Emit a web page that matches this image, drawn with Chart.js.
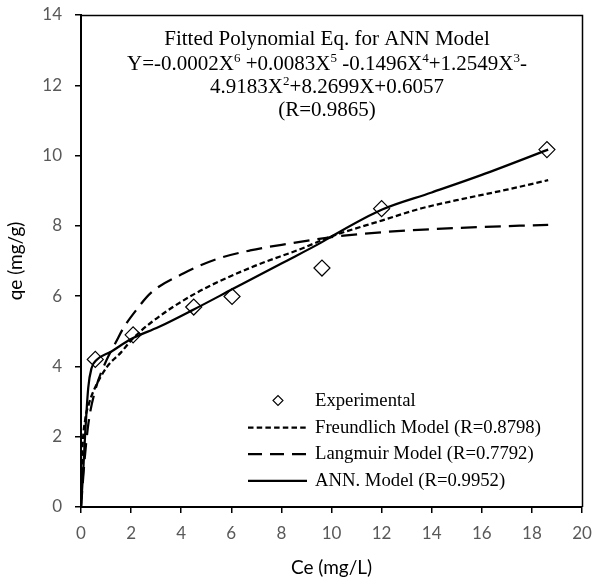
<!DOCTYPE html>
<html><head><meta charset="utf-8">
<script src="https://cdn.jsdelivr.net/npm/chart.js@4.4.0/dist/chart.umd.min.js"></script>
<style>html,body{margin:0;padding:0;background:#fff;}#wrap{width:593px;height:583px;position:relative;}</style>
</head><body>
<div id="wrap"><canvas id="c" width="593" height="583"></canvas></div>
<script>
// ---- data ----
const expX = [0.57, 2.08, 4.5, 6.03, 9.62, 12.0, 18.6];
const expY = [4.2, 4.9, 5.69, 5.99, 6.8, 8.49, 10.17];

const freX = [0, 0.05, 0.17, 0.3, 0.5, 1.05, 1.6, 2.05, 2.8, 4.5, 6.8, 8.8, 10.0, 12.0, 13.6, 15.0, 17.0, 18.65];
const freY = [0, 1.5, 2.5, 2.9, 3.3, 4.0, 4.4, 4.78, 5.25, 6.05, 6.82, 7.35, 7.7, 8.15, 8.5, 8.73, 9.03, 9.3];

const lanX = [0, 0.15, 0.3, 0.56, 1.0, 1.4, 1.7, 2.2, 2.8, 4.1, 5.4, 6.75, 8.35, 10.0, 12.2, 15.0, 18.65];
const lanY = [0, 1.4, 2.4, 3.3, 4.15, 4.7, 5.1, 5.6, 6.1, 6.65, 7.05, 7.3, 7.5, 7.68, 7.83, 7.94, 8.03];

const annX = [0, 0.09, 0.16, 0.29, 0.42, 0.62, 1.2, 2.0, 3.1, 4.5, 6.05, 8.0, 9.6, 10.0, 12.0, 14.0, 16.0, 18.65];
const annY = [0, 1.05, 2.0, 3.4, 3.95, 4.18, 4.42, 4.78, 5.12, 5.62, 6.2, 6.93, 7.53, 7.7, 8.46, 8.95, 9.45, 10.17];

const xTickValues = [0, 2, 4, 6, 8, 10, 12, 14, 16, 18, 20];
const xTickLabels = ['0', '2', '4', '6', '8', '10', '12', '14', '16', '18', '20'];
const yTickValues = [0, 2, 4, 6, 8, 10, 12, 14];
const yTickLabels = ['0', '2', '4', '6', '8', '10', '12', '14'];

const xTitle = 'Ce (mg/L)';
const yTitle = 'qe (mg/g)';
const legendLabels = ['Experimental', 'Freundlich Model (R=0.8798)', 'Langmuir Model (R=0.7792)', 'ANN. Model (R=0.9952)'];
const titleLines = [
  [{t: 'Fitted Polynomial Eq. for ANN Model'}],
  [{t: 'Y=-0.0002X'}, {t: '6', sup: true}, {t: ' +0.0083X'}, {t: '5', sup: true}, {t: ' -0.1496X'}, {t: '4', sup: true}, {t: '+1.2549X'}, {t: '3', sup: true}, {t: '-'}],
  [{t: '4.9183X'}, {t: '2', sup: true}, {t: '+8.2699X+0.6057'}],
  [{t: '(R=0.9865)'}]
];

// ---- styles ----
const SERIF = '"Liberation Serif", "Times New Roman", serif';
const SANS = 'Lato, "Open Sans", sans-serif';
const dashes = [null, [5.5, 3], [16, 8], []];
const legendDashes = [null, [5.5, 3.2], [14, 8], []];

const pts = (xs, ys) => xs.map((x, i) => ({x: x, y: ys[i]}));

const overlay = {
  id: 'overlay',
  afterDraw(chart) {
    const ctx = chart.ctx, a = chart.chartArea;
    ctx.save();
    // plot-area frame (top and right)
    ctx.strokeStyle = '#000';
    ctx.lineWidth = 1.5;
    ctx.beginPath();
    ctx.moveTo(a.left, a.top + 0.5);
    ctx.lineTo(a.right + 0.5, a.top + 0.5);
    ctx.lineTo(a.right + 0.5, a.bottom);
    ctx.stroke();

    // equation text block
    ctx.fillStyle = '#000';
    ctx.textAlign = 'left';
    ctx.textBaseline = 'alphabetic';
    const size = 21, supSize = 13, rise = 8;
    const cx = 327;
    const baselines = [45, 69.5, 93, 116];
    titleLines.forEach((segs, li) => {
      let w = 0;
      segs.forEach(s => { ctx.font = (s.sup ? supSize : size) + 'px ' + SERIF; w += ctx.measureText(s.t).width; });
      let x = cx - w / 2;
      segs.forEach(s => {
        ctx.font = (s.sup ? supSize : size) + 'px ' + SERIF;
        ctx.fillText(s.t, x, s.sup ? baselines[li] - rise : baselines[li]);
        x += ctx.measureText(s.t).width;
      });
    });

    // legend
    const rows = [400.5, 427.5, 454.2, 480.8];
    const x0 = 248, x1 = 307, tx = 315;
    chart.data.datasets.forEach((ds, i) => {
      const y = rows[i];
      ctx.strokeStyle = '#000';
      if (i === 0) {
        ctx.setLineDash([]);
        ctx.lineWidth = 1.1;
        const r = 5, cxm = (x0 + x1) / 2 + 0.5;
        ctx.beginPath();
        ctx.moveTo(cxm - r, y); ctx.lineTo(cxm, y - r); ctx.lineTo(cxm + r, y); ctx.lineTo(cxm, y + r); ctx.closePath();
        ctx.stroke();
      } else {
        ctx.setLineDash(legendDashes[i]);
        ctx.lineWidth = 2.25;
        ctx.beginPath(); ctx.moveTo(x0, y); ctx.lineTo(x1, y); ctx.stroke();
      }
      ctx.setLineDash([]);
      ctx.font = '18.7px ' + SERIF;
      ctx.fillStyle = '#000';
      ctx.fillText(ds.label, tx, y + 5);
    });
    ctx.restore();
  }
};

const lineDs = (label, xs, ys, i) => ({
  label: label, data: pts(xs, ys), showLine: true, borderColor: '#000', borderWidth: 2.25,
  borderDash: dashes[i], pointRadius: 0, pointHoverRadius: 0, fill: false,
  cubicInterpolationMode: 'monotone', borderCapStyle: 'butt'
});

new Chart(document.getElementById('c'), {
  type: 'scatter',
  data: {
    datasets: [
      {label: legendLabels[0], data: pts(expX, expY), pointStyle: 'rectRot', pointRadius: 8, pointHoverRadius: 8,
       pointBorderColor: '#000', pointBackgroundColor: 'rgba(0,0,0,0)', pointBorderWidth: 1.2, showLine: false},
      lineDs(legendLabels[1], freX, freY, 1),
      lineDs(legendLabels[2], lanX, lanY, 2),
      lineDs(legendLabels[3], annX, annY, 3)
    ]
  },
  options: {
    responsive: false, animation: false, devicePixelRatio: 1,
    layout: {padding: {left: 0, right: 11, top: 15, bottom: 0}},
    plugins: {legend: {display: false}, tooltip: {enabled: false}, title: {display: false}},
    scales: {
      x: {
        type: 'linear', position: 'bottom', min: 0, max: 20,
        afterBuildTicks: s => { s.ticks = xTickValues.map(v => ({value: v})); },
        afterFit: s => { s.height = 76; s.paddingLeft = 0; s.paddingRight = 0; },
        ticks: {color: '#595959', font: {family: SANS, size: 17}, padding: 10, maxRotation: 0,
                callback: (v, i) => xTickLabels[i]},
        grid: {display: true, drawOnChartArea: false, drawTicks: true, tickLength: 6, color: '#000', lineWidth: 1.5},
        border: {display: true, color: '#000', width: 2},
        title: {display: true, text: xTitle, color: '#000', font: {family: SANS, size: 19}, padding: {top: 0, bottom: 4}}
      },
      y: {
        type: 'linear', min: 0, max: 14,
        afterBuildTicks: s => { s.ticks = yTickValues.map(v => ({value: v})); },
        afterFit: s => { s.width = 81; s.paddingTop = 0; s.paddingBottom = 0; },
        ticks: {color: '#595959', font: {family: SANS, size: 17}, padding: 13,
                callback: (v, i) => yTickLabels[i]},
        grid: {display: true, drawOnChartArea: false, drawTicks: true, tickLength: 6, color: '#000', lineWidth: 1.5},
        border: {display: true, color: '#000', width: 2},
        title: {display: true, text: yTitle, color: '#000', font: {family: SANS, size: 19}, padding: {top: 4, bottom: 0}}
      }
    }
  },
  plugins: [overlay]
});
</script>
</body></html>
